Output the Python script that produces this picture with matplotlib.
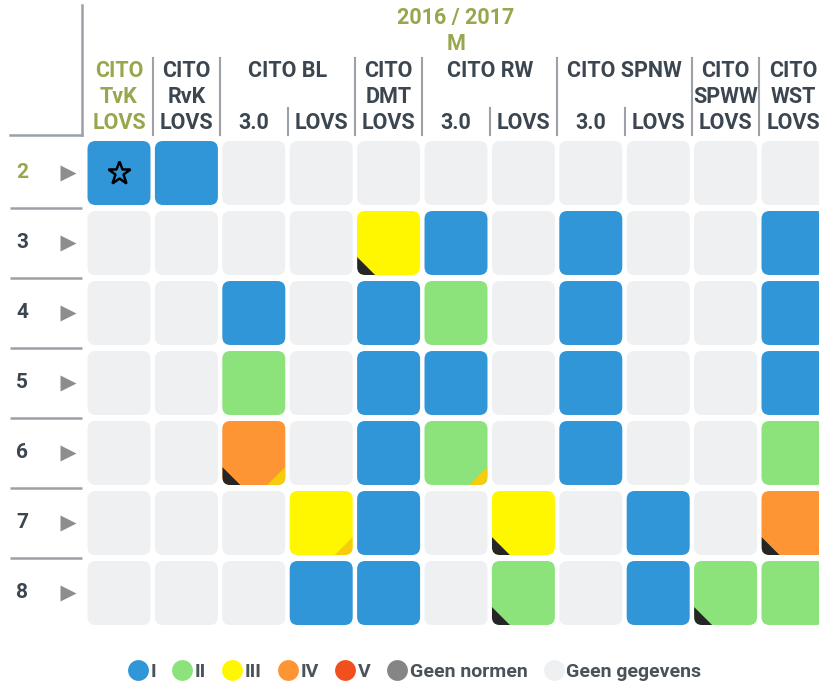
import matplotlib
matplotlib.use("Agg")
import matplotlib.pyplot as plt
from matplotlib.patches import FancyBboxPatch, Polygon
from matplotlib.lines import Line2D

plt.rcParams['font.family'] = ['Roboto', 'DejaVu Sans']

# Dados
jaar = '2016 / 2017'
periode = 'M'
groepen = [2, 3, 4, 5, 6, 7, 8]

# kolommen: (toets, versie)
toetsen = ['CITO\nTvK', 'CITO\nRvK', 'CITO BL', 'CITO BL', 'CITO\nDMT',
           'CITO RW', 'CITO RW', 'CITO SPNW', 'CITO SPNW', 'CITO\nSPWW', 'CITO\nWST']
versies = ['LOVS', 'LOVS', '3.0', 'LOVS', 'LOVS', '3.0', 'LOVS', '3.0', 'LOVS', 'LOVS', 'LOVS']

# niveau per groep (0 = geen gegevens, 1..5 = I..V)
niveaus = {
    2: [1, 1, 0, 0, 0, 0, 0, 0, 0, 0, 0],
    3: [0, 0, 0, 0, 3, 1, 0, 1, 0, 0, 1],
    4: [0, 0, 1, 0, 1, 2, 0, 1, 0, 0, 1],
    5: [0, 0, 2, 0, 1, 1, 0, 1, 0, 0, 1],
    6: [0, 0, 4, 0, 1, 2, 0, 1, 0, 0, 2],
    7: [0, 0, 0, 3, 1, 0, 3, 0, 1, 0, 4],
    8: [0, 0, 0, 1, 1, 0, 2, 0, 1, 2, 2],
}
zwarte_hoek = [(3, 4), (6, 2), (7, 6), (7, 10), (8, 6), (8, 9)]
gele_hoek = [(6, 2), (6, 5), (7, 3)]
ster = [(2, 0)]

legenda_labels = ['I', 'II', 'III', 'IV', 'V', 'Geen normen', 'Geen gegevens']
kleuren = ['#3196d8', '#8ce27b', '#fff700', '#fd9535', '#f24f1e', '#858585', '#eff0f2']
kleur_niveau = {0: '#eff0f2', 1: '#3196d8', 2: '#8ce27b', 3: '#fff700', 4: '#fd9535', 5: '#f24f1e'}

OLIJF = '#98a74e'
TEKST = '#3c4650'
LIJN = '#9ba1a7'
FS = 15.5

# pixel -> data helpers (layout only)
PX_X, PX_Y = 67.4, 70.0
def xpx(p):
    return (p - 119) / PX_X
def ypx(p):
    return 2 + (p - 173) / PX_Y

fig = plt.figure(figsize=(8.19, 6.86), dpi=100)
ax = fig.add_axes([0, 0, 1, 1])
ax.set_xlim(xpx(0), xpx(819))
ax.set_ylim(ypx(686), ypx(0))
ax.axis('off')

w, h = 63 / PX_X, 64 / PX_Y
hx, hy = 18 / PX_X, 18 / PX_Y

for g in groepen:
    for c, n in enumerate(niveaus[g]):
        x0, y0 = c - w / 2, g - h / 2
        cel = FancyBboxPatch((x0, y0), w, h, boxstyle='round,pad=0,rounding_size=0.12',
                             mutation_aspect=PX_X / PX_Y, fc=kleur_niveau[n], ec='none')
        ax.add_patch(cel)
        if (g, c) in zwarte_hoek:
            tri = Polygon([(x0, y0 + h), (x0 + hx, y0 + h), (x0, y0 + h - hy)],
                          closed=True, fc='#262626', ec='none')
            ax.add_patch(tri)
            tri.set_clip_path(cel)
        if (g, c) in gele_hoek:
            tri = Polygon([(x0 + w, y0 + h), (x0 + w - hx, y0 + h), (x0 + w, y0 + h - hy)],
                          closed=True, fc='#f6cd0c', ec='none')
            ax.add_patch(tri)
            tri.set_clip_path(cel)
        if (g, c) in ster:
            ax.plot(c, g, marker='*', ms=17, mfc='none', mec='black', mew=1.8)

# rij labels
for g in groepen:
    ax.text(xpx(22), g, str(g), ha='center', va='center', fontsize=15, fontweight='bold',
            color=OLIJF if g == 2 else TEKST)
    ax.plot(xpx(68), g, marker='>', ms=11, color='#8d8d8d', mec='none')
for g in groepen[:-1]:
    ax.plot([xpx(10), xpx(82)], [g + 0.5, g + 0.5], color=LIJN, lw=1.8, solid_capstyle='butt')

# kop
ax.plot([xpx(82), xpx(82)], [ypx(5), ypx(135)], color=LIJN, lw=1.8)
ax.plot([xpx(10), xpx(82)], [ypx(135), ypx(135)], color=LIJN, lw=1.8)
ax.text(5, ypx(18), jaar, ha='center', va='center', fontsize=FS, fontweight='bold', color=OLIJF)
ax.text(5, ypx(44), periode, ha='center', va='center', fontsize=FS, fontweight='bold', color=OLIJF)

c = 0
while c < len(toetsen):
    span = 1
    while c + span < len(toetsen) and toetsen[c + span] == toetsen[c]:
        span += 1
    kleur = OLIJF if c == 0 else TEKST
    midden = c + (span - 1) / 2
    if '\n' in toetsen[c]:
        regels = toetsen[c].split('\n')
        ax.text(midden, ypx(71), regels[0], ha='center', va='center', fontsize=FS,
                fontweight='bold', color=kleur)
        ax.text(midden, ypx(97), regels[1], ha='center', va='center', fontsize=FS,
                fontweight='bold', color=kleur)
    else:
        ax.text(midden, ypx(71), toetsen[c], ha='center', va='center', fontsize=FS,
                fontweight='bold', color=kleur)
    for k in range(c, c + span):
        ax.text(k, ypx(123), versies[k], ha='center', va='center', fontsize=FS,
                fontweight='bold', color=kleur)
        if k > c:
            ax.plot([k - 0.5, k - 0.5], [ypx(108), ypx(135)], color=LIJN, lw=1.5)
    if c > 0:
        ax.plot([c - 0.5, c - 0.5], [ypx(58), ypx(135)], color=LIJN, lw=1.5)
    c += span

handles = [Line2D([], [], ls='none', marker='o', ms=15, mfc=k, mec='none') for k in kleuren]
leg = ax.legend(handles, legenda_labels, loc='center', bbox_to_anchor=(0.507, 1 - 672 / 686),
                ncol=7, frameon=False, handlelength=0.9, handletextpad=0.2,
                columnspacing=0.9, prop={'size': 14, 'weight': 'bold'})
for t in leg.get_texts():
    t.set_color('#4a525a')

fig.savefig('out.png', dpi=100)
